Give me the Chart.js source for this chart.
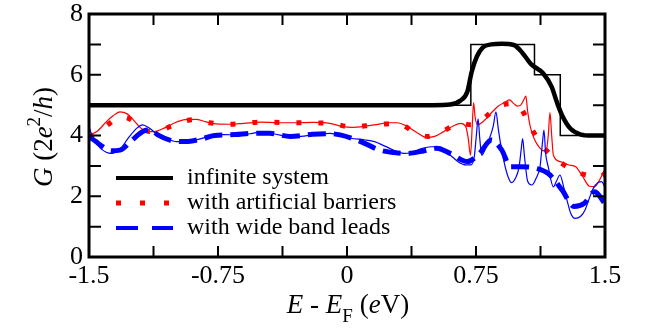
<!DOCTYPE html>
<html>
<head>
<meta charset="utf-8">
<script src="https://cdn.jsdelivr.net/npm/chart.js@4.4.0/dist/chart.umd.min.js"></script>
<style>
  html, body { margin: 0; padding: 0; background: #fff; }
  canvas { display: block; }
</style>
</head>
<body>
<canvas id="chart" width="645" height="330"></canvas>
<script>
// axis ticks
const xMajor = [-1.5, -0.75, 0, 0.75, 1.5];
const xTickLabels = ['-1.5', '-0.75', '0', '0.75', '1.5'];
const xMinor = [-1.125, -0.375, 0.375, 1.125];
const yMajor = [0, 2, 4, 6, 8];
const yTickLabels = ['0', '2', '4', '6', '8'];
const yMinor = [1, 3, 5, 7];

const legendLabels = ['infinite system', 'with artificial barriers', 'with wide band leads'];

// infinite system, ideal steps (thin)
const stepE = [-1.5, 0.72, 0.72, 1.09, 1.09, 1.24, 1.24, 1.5];
const stepG = [5, 5, 7, 7, 6, 6, 4, 4];

// infinite system (thick)
const infE = [-1.5, 0.0, 0.5, 0.6, 0.66, 0.7, 0.725, 0.755, 0.79, 0.84, 0.9, 0.97, 1.02, 1.07, 1.14, 1.19, 1.22, 1.25, 1.3, 1.36, 1.42, 1.5];
const infG = [5, 5, 5, 5.02, 5.15, 5.45, 6.1, 6.6, 6.9, 7.0, 7.02, 6.98, 6.72, 6.35, 6.05, 5.6, 5.1, 4.67, 4.22, 4.03, 4.0, 4.0];

// with artificial barriers, thin
const barE = [-1.5, -1.45, -1.4, -1.36, -1.32, -1.28, -1.24, -1.2, -1.16, -1.12, -1.06, -1.0, -0.94, -0.88, -0.82, -0.76, -0.68, -0.6, -0.5, -0.4, -0.3, -0.2, -0.1, -0.03, 0.03, 0.1, 0.17, 0.24, 0.29, 0.35, 0.41, 0.46, 0.51, 0.56, 0.62, 0.66, 0.69, 0.705, 0.718, 0.728, 0.736, 0.745, 0.76, 0.79, 0.84, 0.88, 0.92, 0.945, 0.97, 0.99, 1.01, 1.03, 1.04, 1.05, 1.065, 1.09, 1.12, 1.14, 1.16, 1.17, 1.18, 1.19, 1.2, 1.24, 1.29, 1.33, 1.37, 1.41, 1.44, 1.47, 1.5];
const barG = [4.0, 4.15, 4.45, 4.65, 4.78, 4.72, 4.5, 4.25, 4.13, 4.13, 4.25, 4.42, 4.52, 4.53, 4.45, 4.38, 4.37, 4.4, 4.44, 4.42, 4.42, 4.43, 4.4, 4.3, 4.27, 4.3, 4.36, 4.42, 4.42, 4.3, 4.08, 3.94, 3.97, 4.12, 4.32, 4.4, 4.3, 3.9, 3.35, 4.3, 5.08, 4.6, 4.35, 4.45, 4.75, 4.97, 5.1, 5.17, 5.05, 4.97, 5.0, 5.2, 5.3, 4.8, 4.3, 3.87, 3.6, 3.5, 3.55, 4.0, 4.75, 4.0, 3.35, 3.14, 3.03, 2.97, 2.65, 2.33, 2.32, 2.55, 2.9];

// with artificial barriers, smoothed (dotted)
const barSmE = [-1.5, -1.45, -1.38, -1.32, -1.27, -1.2, -1.15, -1.09, -1.03, -0.95, -0.88, -0.8, -0.7, -0.6, -0.5, -0.3, -0.1, 0.03, 0.16, 0.29, 0.41, 0.47, 0.54, 0.66, 0.72, 0.78, 0.88, 0.95, 1.01, 1.07, 1.14, 1.24, 1.36, 1.47, 1.5];
const barSmG = [3.95, 4.1, 4.4, 4.6, 4.56, 4.3, 4.13, 4.15, 4.29, 4.47, 4.52, 4.42, 4.37, 4.4, 4.44, 4.42, 4.4, 4.28, 4.35, 4.4, 4.05, 3.97, 4.09, 4.4, 4.35, 4.5, 4.95, 5.05, 4.9, 4.26, 3.63, 3.12, 2.75, 2.64, 2.75];

// with wide band leads, thin
const wblE = [-1.5, -1.48, -1.44, -1.4, -1.37, -1.32, -1.27, -1.22, -1.19, -1.15, -1.11, -1.05, -0.99, -0.93, -0.88, -0.8, -0.72, -0.63, -0.55, -0.5, -0.42, -0.33, -0.25, -0.17, -0.1, -0.03, 0.02, 0.1, 0.16, 0.22, 0.27, 0.33, 0.38, 0.43, 0.49, 0.54, 0.6, 0.65, 0.69, 0.72, 0.74, 0.752, 0.762, 0.772, 0.783, 0.8, 0.825, 0.85, 0.866, 0.88, 0.9, 0.93, 0.957, 0.98, 1.0, 1.012, 1.021, 1.032, 1.05, 1.074, 1.1, 1.122, 1.137, 1.145, 1.155, 1.17, 1.2, 1.218, 1.238, 1.26, 1.28, 1.3, 1.326, 1.36, 1.384, 1.41, 1.432, 1.46, 1.48, 1.5];
const wblG = [4.3, 3.95, 3.62, 3.45, 3.41, 3.55, 3.93, 4.25, 4.35, 4.25, 4.07, 3.9, 3.8, 3.8, 3.85, 3.97, 4.03, 4.02, 4.07, 4.12, 4.05, 3.96, 3.98, 4.04, 4.07, 4.0, 3.91, 3.86, 3.8, 3.65, 3.52, 3.41, 3.45, 3.56, 3.63, 3.63, 3.36, 3.12, 3.03, 3.03, 3.3, 4.0, 4.55, 3.9, 3.35, 3.5, 3.85, 4.3, 4.78, 4.2, 3.5, 2.75, 2.45, 2.6, 2.95, 3.5, 3.9, 3.3, 2.5, 2.37, 2.6, 2.97, 3.8, 4.18, 3.4, 2.97, 2.31, 2.5, 2.7, 2.3, 1.85, 1.45, 1.27, 1.35, 1.55, 1.95, 2.26, 2.45, 2.48, 2.3];

// with wide band leads, smoothed (dashed)
const wblSmE = [-1.5, -1.46, -1.42, -1.37, -1.32, -1.25, -1.18, -1.14, -1.1, -1.03, -0.94, -0.85, -0.77, -0.65, -0.55, -0.45, -0.33, -0.2, -0.1, -0.04, 0.08, 0.19, 0.35, 0.45, 0.52, 0.6, 0.7, 0.77, 0.84, 0.9, 0.95, 1.01, 1.1, 1.17, 1.25, 1.32, 1.38, 1.44, 1.5];
const wblSmG = [3.96, 3.8, 3.63, 3.5, 3.52, 3.85, 4.15, 4.18, 4.02, 3.85, 3.8, 3.88, 4.0, 4.03, 4.07, 4.07, 3.97, 4.04, 4.06, 4.02, 3.8, 3.52, 3.41, 3.5, 3.58, 3.41, 3.14, 3.41, 3.85, 3.52, 2.97, 2.97, 2.92, 2.75, 2.21, 1.66, 1.77, 2.15, 1.75];

const SERIF = '"Liberation Serif", "Times New Roman", Times, "DejaVu Serif", "Noto Serif", serif';
const pts = (xs, ys) => xs.map((v, i) => ({ x: v, y: ys[i] }));

function line(data, color, width, dash, order, extra) {
  return Object.assign({
    data: data,
    borderColor: color,
    borderWidth: width,
    borderDash: dash || [],
    pointRadius: 0,
    fill: false,
    cubicInterpolationMode: 'monotone',
    order: order
  }, extra || {});
}

// draw a run of text pieces with varying style
function richText(ctx, parts, x, y) {
  let w = 0;
  parts.forEach(p => { ctx.font = p.font; w += ctx.measureText(p.t).width; });
  let cx = x - w / 2;
  parts.forEach(p => {
    ctx.font = p.font;
    ctx.fillText(p.t, cx, y + (p.dy || 0));
    cx += ctx.measureText(p.t).width;
  });
}

const framePlugin = {
  id: 'frame',
  afterDatasetsDraw(chart) {
    const { ctx, chartArea: a, scales: { x, y } } = chart;
    ctx.save();
    ctx.strokeStyle = '#000';
    ctx.lineWidth = 2;
    ctx.beginPath();
    xMajor.concat(xMinor).forEach(v => {
      const px = x.getPixelForValue(v);
      ctx.moveTo(px, a.bottom); ctx.lineTo(px, a.bottom - 11);
      ctx.moveTo(px, a.top); ctx.lineTo(px, a.top + 11);
    });
    yMajor.concat(yMinor).forEach(v => {
      const py = y.getPixelForValue(v);
      ctx.moveTo(a.left, py); ctx.lineTo(a.left + 12, py);
      ctx.moveTo(a.right, py); ctx.lineTo(a.right - 12, py);
    });
    ctx.stroke();
    ctx.lineWidth = 3;
    ctx.strokeRect(a.left, a.top, a.right - a.left, a.bottom - a.top);

    // legend
    const styles = [
      { c: '#000', w: 4, d: [] },
      { c: '#ff0000', w: 5, d: [5, 19] },
      { c: '#0000ff', w: 4, d: [22, 14] }
    ];
    ctx.lineCap = 'butt';
    legendLabels.forEach((lab, i) => {
      const ly = 178 + i * 25;
      ctx.strokeStyle = styles[i].c;
      ctx.lineWidth = styles[i].w;
      ctx.setLineDash(styles[i].d);
      ctx.beginPath();
      ctx.moveTo(116, ly); ctx.lineTo(173, ly);
      ctx.stroke();
      ctx.setLineDash([]);
      ctx.fillStyle = '#000';
      ctx.font = '24px ' + SERIF;
      ctx.textBaseline = 'alphabetic';
      ctx.textAlign = 'left';
      ctx.fillText(lab, 187, ly + 6);
    });

    // axis titles
    const it = 'italic 27px ' + SERIF, rm = '27px ' + SERIF, sm = '19px ' + SERIF;
    ctx.fillStyle = '#000';
    richText(ctx, [
      { t: 'E', font: it }, { t: ' - ', font: rm }, { t: 'E', font: it },
      { t: 'F', font: sm, dy: 9 }, { t: ' (', font: rm }, { t: 'e', font: it }, { t: 'V)', font: rm }
    ], 348, 313);
    ctx.translate(52, 137);
    ctx.rotate(-Math.PI / 2);
    richText(ctx, [
      { t: 'G', font: it }, { t: ' (2', font: rm }, { t: 'e', font: it },
      { t: '2', font: sm, dy: -12 }, { t: '/', font: rm }, { t: 'h', font: it }, { t: ')', font: rm }
    ], 0, 0);
    ctx.restore();
  }
};

function draw() {
  new Chart(document.getElementById('chart'), {
    type: 'line',
    data: {
      datasets: [
        line(pts(stepE, stepG), '#000', 1.5, null, 6, { tension: 0, cubicInterpolationMode: 'default' }),
        line(pts(infE, infG), '#000', 4.5, null, 5),
        line(pts(barE, barG), '#ff0000', 1.2, null, 4),
        line(pts(barSmE, barSmG), '#ff0000', 5, [5, 17], 3),
        line(pts(wblE, wblG), '#0000ff', 1.2, null, 2),
        line(pts(wblSmE, wblSmG), '#0000ff', 5, [18, 8], 1)
      ]
    },
    options: {
      responsive: false,
      animation: false,
      devicePixelRatio: 1,
      layout: { padding: { left: 0, top: 14, right: 40, bottom: 0 } },
      plugins: { legend: { display: false }, tooltip: { enabled: false } },
      scales: {
        x: {
          type: 'linear',
          min: -1.5,
          max: 1.5,
          afterBuildTicks: s => { s.ticks = xMajor.map(v => ({ value: v })); },
          afterFit: s => { s.height = 73; },
          grid: { display: false, drawTicks: false },
          border: { display: false },
          ticks: {
            callback: (v, i) => xTickLabels[i],
            color: '#000',
            font: { family: SERIF, size: 26, lineHeight: 1 },
            padding: 6,
            maxRotation: 0,
            autoSkip: false
          }
        },
        y: {
          min: 0,
          max: 8,
          afterBuildTicks: s => { s.ticks = yMajor.map(v => ({ value: v })); },
          afterFit: s => { s.width = 89; },
          grid: { display: false, drawTicks: false },
          border: { display: false },
          ticks: {
            callback: (v, i) => yTickLabels[i],
            color: '#000',
            font: { family: SERIF, size: 26, lineHeight: 0.5 },
            padding: 6
          }
        }
      }
    },
    plugins: [framePlugin]
  });
}

Promise.all([
  document.fonts.load('26px "Liberation Serif"'),
  document.fonts.load('italic 27px "Liberation Serif"')
]).then(draw, draw);
</script>
</body>
</html>
